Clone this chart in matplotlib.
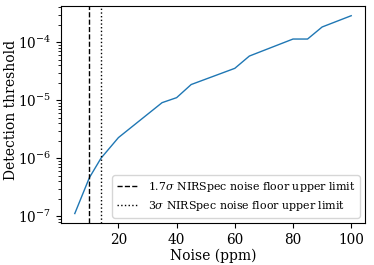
import numpy as np
import matplotlib.pyplot as plt

plt.rcParams['font.family'] = 'DejaVu Serif'
plt.rcParams['mathtext.fontset'] = 'dejavuserif'

# Detection threshold vs. noise level
noise = [5, 10, 14, 20, 35, 40, 45, 60, 65, 80, 85, 90, 100]
threshold = [1.11e-7, 4.6e-7, 1.0e-6, 2.27e-6, 9.1e-6, 1.11e-5, 1.87e-5,
             3.56e-5, 5.8e-5, 1.14e-4, 1.14e-4, 1.84e-4, 2.88e-4]

# NIRSpec noise floor upper limits (ppm)
floor_17sigma = 10
floor_3sigma = 14

fig = plt.figure(figsize=(3.74, 2.65), dpi=100)
ax = fig.add_axes([0.163, 0.158, 0.813, 0.820])

ax.plot(noise, threshold, color='C0', lw=1.0)
ax.axvline(floor_17sigma, color='black', ls='--', lw=1.0,
           label=r'1.7$\sigma$ NIRSpec noise floor upper limit')
ax.axvline(floor_3sigma, color='black', ls=':', lw=1.0,
           label=r'3$\sigma$ NIRSpec noise floor upper limit')

ax.set_yscale('log')
ax.set_ylim(10**-7.12, 10**-3.37)
ax.set_xticks([20, 40, 60, 80, 100])
ax.tick_params(labelsize=9.8)
ax.set_xlabel('Noise (ppm)', fontsize=10, labelpad=1)
ax.set_ylabel('Detection threshold', fontsize=10)
ax.yaxis.set_label_coords(-0.14, 0.52)
ax.legend(loc='lower right', fontsize=7.9)

fig.savefig('out.png', dpi=100)
